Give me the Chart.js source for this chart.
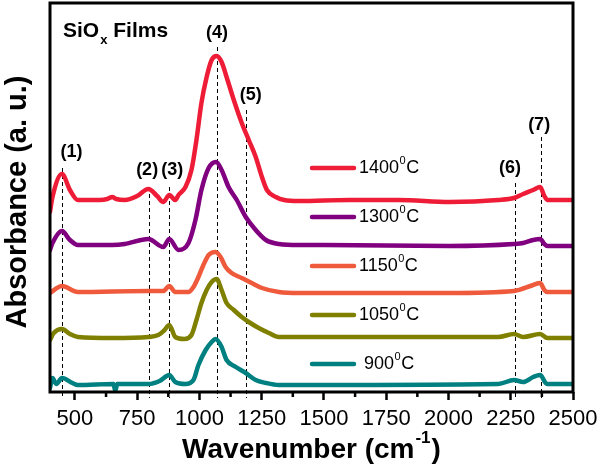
<!DOCTYPE html>
<html>
<head>
<meta charset="utf-8">
<script src="https://cdn.jsdelivr.net/npm/chart.js@4"></script>
<style>
html,body{margin:0;padding:0;background:#fff;}
#wrap{width:600px;height:470px;}
</style>
</head>
<body>
<div id="wrap"><canvas id="c" width="600" height="470"></canvas></div>
<script>
// ---- data (wavenumber cm-1, absorbance a.u. with vertical offsets) ----
const xTicks = [500, 750, 1000, 1250, 1500, 1750, 2000, 2250, 2500];
const seriesLabels = ['1400', '1300', '1150', '1050', ' 900'];

const s1400 = [[400,1.80],[410,1.95],[448,2.18],[480,2.02],[512,1.92],[600,1.92],[630,1.93],[650,1.95],[666,1.93],[700,1.92],[750,1.96],[795,2.03],[830,1.96],[855,1.90],[879,1.97],[903,1.92],[916,1.97],[944,2.05],[968,2.22],[988,2.52],[1008,2.89],[1029,3.15],[1049,3.32],[1069,3.36],[1089,3.30],[1109,3.15],[1138,2.92],[1170,2.69],[1198,2.52],[1226,2.35],[1251,2.15],[1271,2.02],[1307,1.95],[1340,1.92],[1400,1.91],[1600,1.92],[1800,1.92],[2005,1.90],[2200,1.92],[2263,1.94],[2300,1.98],[2340,2.02],[2368,2.05],[2385,1.96],[2397,1.92],[2500,1.92]];
const s1300 = [[400,1.42],[410,1.49],[448,1.61],[480,1.52],[512,1.47],[650,1.47],[700,1.48],[795,1.53],[855,1.45],[879,1.53],[916,1.42],[956,1.49],[984,1.72],[1008,2.02],[1037,2.24],[1067,2.30],[1089,2.22],[1117,2.05],[1150,1.92],[1186,1.75],[1226,1.62],[1267,1.52],[1319,1.48],[1400,1.47],[1500,1.47],[2000,1.46],[2263,1.48],[2300,1.49],[2340,1.52],[2368,1.53],[2385,1.48],[2397,1.46],[2500,1.46]];
const s1150 = [[400,0.99],[448,1.06],[512,1.00],[795,1.01],[855,1.01],[879,1.06],[903,1.00],[956,1.00],[976,1.05],[996,1.15],[1016,1.27],[1037,1.37],[1065,1.40],[1085,1.35],[1105,1.25],[1129,1.19],[1170,1.14],[1210,1.09],[1251,1.04],[1319,1.00],[1400,0.99],[2000,0.99],[2263,1.01],[2340,1.07],[2368,1.09],[2385,1.02],[2397,1.00],[2500,1.00]];
const s1050 = [[400,0.52],[415,0.59],[448,0.63],[480,0.58],[512,0.55],[650,0.54],[795,0.55],[835,0.57],[860,0.62],[879,0.67],[903,0.55],[940,0.53],[968,0.57],[988,0.72],[1008,0.89],[1029,1.02],[1049,1.10],[1069,1.13],[1089,1.02],[1109,0.89],[1138,0.82],[1170,0.75],[1198,0.70],[1238,0.64],[1279,0.59],[1319,0.55],[1400,0.55],[2200,0.55],[2263,0.58],[2300,0.55],[2368,0.58],[2397,0.54],[2500,0.54]];
const s900 = [[400,0.04],[410,0.14],[425,0.08],[448,0.14],[490,0.09],[512,0.07],[655,0.08],[662,0.01],[670,0.08],[795,0.08],[840,0.11],[879,0.17],[903,0.10],[944,0.08],[976,0.12],[996,0.27],[1025,0.42],[1049,0.50],[1065,0.53],[1089,0.45],[1109,0.32],[1146,0.25],[1186,0.19],[1226,0.12],[1267,0.09],[1319,0.07],[1400,0.07],[2200,0.08],[2263,0.12],[2300,0.10],[2340,0.15],[2368,0.17],[2390,0.09],[2397,0.08],[2500,0.08]];

// peak markers
const peakNames = ['(1)','(2)','(3)','(4)','(5)','(6)','(7)'];
const peakWavenumbers = [448, 796, 879, 1072, 1187, 2266, 2370];

// ---- style / layout ----
const colors = ['#ee1c36', '#800080', '#ef5a3c', '#808000', '#008080'];
const peakLineTop = [2.24, 2.05, 2.05, 3.45, 2.82, 2.09, 2.55];
const peakLabelX = [486, 790, 891, 1071, 1206, 2247, 2364];
const peakLabelY = [2.40, 2.22, 2.22, 3.59, 2.97, 2.24, 2.67];
const FONT = '"Liberation Sans", Arial, sans-serif';

const allSeries = [s1400, s1300, s1150, s1050, s900];
const datasets = allSeries.map((s, i) => ({
  label: seriesLabels[i] + '\u00B0C',
  data: s.map(p => ({x: p[0], y: p[1]})),
  borderColor: colors[i],
  backgroundColor: colors[i],
  borderWidth: 4.5,
  pointRadius: 0,
  cubicInterpolationMode: 'monotone',
  borderCapStyle: 'round',
  borderJoinStyle: 'round'
}));

const overlay = {
  id: 'overlay',
  beforeDatasetsDraw(chart) {
    const ctx = chart.ctx, xs = chart.scales.x, ys = chart.scales.y, ca = chart.chartArea;
    ctx.save();
    ctx.strokeStyle = '#000';
    ctx.lineWidth = 1;
    ctx.setLineDash([4, 3]);
    peakWavenumbers.forEach((w, i) => {
      const px = Math.round(xs.getPixelForValue(w)) + 0.5;
      ctx.beginPath();
      ctx.moveTo(px, ys.getPixelForValue(peakLineTop[i]));
      ctx.lineTo(px, ca.bottom + 6);
      ctx.stroke();
    });
    ctx.restore();
  },
  afterDatasetsDraw(chart) {
    const ctx = chart.ctx, xs = chart.scales.x, ys = chart.scales.y, ca = chart.chartArea;
    ctx.save();
    // frame
    ctx.strokeStyle = '#000';
    ctx.lineWidth = 3;
    ctx.strokeRect(ca.left, ca.top, ca.right - ca.left, ca.bottom - ca.top);
    // minor ticks
    ctx.lineWidth = 2.5;
    for (let i = 0; i < xTicks.length - 1; i++) {
      const v = (xTicks[i] + xTicks[i + 1]) / 2;
      const px = xs.getPixelForValue(v);
      ctx.beginPath(); ctx.moveTo(px, ca.bottom); ctx.lineTo(px, ca.bottom + 5); ctx.stroke();
    }
    // peak labels
    ctx.fillStyle = '#000';
    ctx.font = 'bold 18px ' + FONT;
    ctx.textAlign = 'center';
    ctx.textBaseline = 'middle';
    peakNames.forEach((n, i) => {
      ctx.fillText(n, xs.getPixelForValue(peakLabelX[i]), ys.getPixelForValue(peakLabelY[i]));
    });
    // SiOx Films
    ctx.textAlign = 'left';
    ctx.font = 'bold 21px ' + FONT;
    let x0 = ca.left + 13, y0 = ca.top + 28;
    ctx.fillText('SiO', x0, y0);
    x0 += ctx.measureText('SiO').width;
    ctx.font = 'bold 13px ' + FONT;
    ctx.fillText('x', x0 + 1, y0 + 9);
    x0 += ctx.measureText('x').width + 1;
    ctx.font = 'bold 21px ' + FONT;
    ctx.fillText(' Films', x0, y0);
    // legend
    const legX = ca.left + 260, legY0 = ca.top + 165, legDY = 49;
    datasets.forEach((d, i) => {
      const y = legY0 + i * legDY;
      ctx.strokeStyle = colors[i];
      ctx.lineWidth = 4.5;
      ctx.lineCap = 'round';
      ctx.beginPath(); ctx.moveTo(legX + 2, y); ctx.lineTo(legX + 44, y); ctx.stroke();
      ctx.fillStyle = '#000';
      ctx.font = '18px ' + FONT;
      let tx = legX + 49;
      ctx.fillText(seriesLabels[i], tx, y);
      tx += ctx.measureText(seriesLabels[i]).width + 0.5;
      ctx.font = '11px ' + FONT;
      ctx.fillText('0', tx, y - 7);
      tx += ctx.measureText('0').width + 0.5;
      ctx.font = '18px ' + FONT;
      ctx.fillText('C', tx, y);
    });
    // axis titles
    ctx.fillStyle = '#000';
    ctx.font = 'bold 28px ' + FONT;
    const t1 = 'Wavenumber (cm', t3 = ')';
    const w1 = ctx.measureText(t1).width, w3 = ctx.measureText(t3).width;
    ctx.font = 'bold 17px ' + FONT;
    const w2 = ctx.measureText('-1').width;
    const total = w1 + w2 + w3 + 2;
    let tx = (ca.left + ca.right) / 2 - total / 2;
    const ty = 450;
    ctx.font = 'bold 28px ' + FONT;
    ctx.fillText(t1, tx, ty);
    tx += w1 + 1;
    ctx.font = 'bold 17px ' + FONT;
    ctx.fillText('-1', tx, ty - 12);
    tx += w2 + 1;
    ctx.font = 'bold 28px ' + FONT;
    ctx.fillText(t3, tx, ty);
    ctx.translate(18, 202);
    ctx.rotate(-Math.PI / 2);
    ctx.textAlign = 'center';
    ctx.font = 'bold 29px ' + FONT;
    ctx.fillText('Absorbance (a. u.)', 0, 0);
    ctx.restore();
  }
};

new Chart(document.getElementById('c'), {
  type: 'line',
  data: { datasets },
  options: {
    responsive: false,
    animation: false,
    devicePixelRatio: 1,
    layout: { padding: { top: 3, right: 27, left: 0, bottom: 0 } },
    plugins: { legend: { display: false }, tooltip: { enabled: false } },
    scales: {
      x: {
        type: 'linear',
        min: 400, max: 2500,
        afterBuildTicks: s => { s.ticks = xTicks.map(v => ({ value: v })); },
        afterFit: s => { s.height = 78; s.paddingRight = 0; s.paddingLeft = 0; },
        border: { display: false },
        grid: { display: true, drawOnChartArea: false, drawTicks: true, tickLength: 8, tickWidth: 2.5, tickColor: '#000' },
        ticks: { color: '#000', font: { family: FONT, size: 22 }, padding: 6, maxRotation: 0, autoSkip: false, callback: v => String(v) }
      },
      y: {
        min: 0, max: 3.89,
        afterFit: s => { s.width = 50; s.paddingTop = 0; s.paddingBottom = 0; },
        border: { display: false },
        grid: { display: false },
        ticks: { display: false }
      }
    }
  },
  plugins: [overlay]
});
</script>
</body>
</html>
